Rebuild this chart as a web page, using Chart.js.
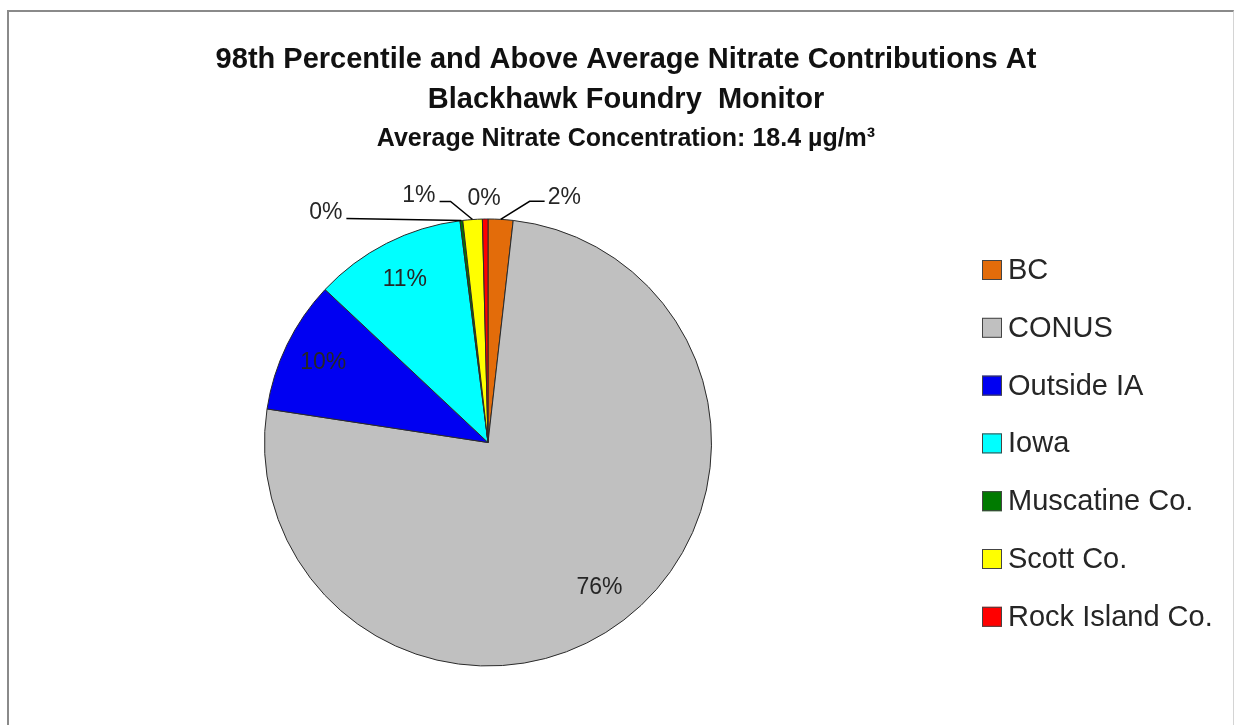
<!DOCTYPE html>
<html lang="en">
<head>
<meta charset="UTF-8">
<title>Nitrate Contributions - Blackhawk Foundry Monitor</title>
<script src="https://cdn.jsdelivr.net/npm/chart.js@4.4.1/dist/chart.umd.min.js"></script>
<style>
    body {
        margin: 0;
        background: #fff;
        font-family: 'Liberation Sans', Arial, sans-serif;
    }
    .frame {
        position: absolute;
        left: 7px;
        top: 10px;
        width: 1224px;
        height: 760px;
        border-left: 2px solid #8a8a8a;
        border-top: 2px solid #8a8a8a;
        border-right: 1px solid #d4d4d4;
    }
    #chartBox {
        position: absolute;
        left: 0;
        top: 0;
        width: 1238px;
        height: 725px;
    }
</style>
</head>
<body>
<div class="frame"></div>
<div id="chartBox">
    <canvas id="nitrateChart" width="1238" height="725"></canvas>
</div>

<script>
// source regions and their share (%) of the average nitrate at the monitor
const sources = ['BC', 'CONUS', 'Outside IA', 'Iowa', 'Muscatine Co.', 'Scott Co.', 'Rock Island Co.'];
const shares = [1.8, 75.6, 9.6, 11.0, 0.2, 1.4, 0.4];
const sliceColors = ['#E36C0A', '#C0C0C0', '#0000F2', '#00FFFF', '#007A00', '#FFFF00', '#FF0000'];

const titleLines = [
    '98th Percentile and Above Average Nitrate Contributions At',
    'Blackhawk Foundry  Monitor'
];
const subTitle = 'Average Nitrate Concentration: 18.4 \u00B5g/m\u00B3';

// where each percentage goes: inside the slice, or outside with a leader line
// (offsets in px from the point where the slice meets the rim)
const labelPlacement = [
    { elbow: [29, -18], end: [44, -18] },
    'inside',
    'inside',
    'inside',
    { elbow: null, end: [-115, -2] },
    { elbow: [-22, -18], end: [-33, -18] },
    { text: [-1, -20] }
];

const TEXT = '#262626';

const headerPlugin = {
    id: 'header',
    afterDraw(chart) {
        const ctx = chart.ctx;
        ctx.save();
        ctx.fillStyle = '#111';
        ctx.textAlign = 'center';
        ctx.textBaseline = 'alphabetic';
        ctx.font = 'bold 29px "Liberation Sans", Arial, sans-serif';
        ctx.fillText(titleLines[0], 626, 68);
        ctx.fillText(titleLines[1], 626, 108);
        ctx.font = 'bold 25px "Liberation Sans", Arial, sans-serif';
        ctx.fillText(subTitle, 626, 146);
        ctx.restore();
    }
};

const sliceLabels = {
    id: 'sliceLabels',
    afterDatasetsDraw(chart) {
        const ctx = chart.ctx;
        const meta = chart.getDatasetMeta(0);
        const values = chart.data.datasets[0].data;
        const total = values.reduce((a, b) => a + b, 0);

        ctx.save();
        ctx.font = '23px "Liberation Sans", Arial, sans-serif';
        ctx.fillStyle = TEXT;
        ctx.strokeStyle = '#000';
        ctx.lineWidth = 1.5;
        ctx.textBaseline = 'middle';

        meta.data.forEach((arc, i) => {
            const p = arc.getProps(['x', 'y', 'startAngle', 'endAngle', 'outerRadius'], true);
            const mid = (p.startAngle + p.endAngle) / 2;
            const txt = Math.round(values[i] / total * 100) + '%';
            const place = labelPlacement[i];

            if (place === 'inside') {
                const r = p.outerRadius * 0.82;
                ctx.textAlign = 'center';
                ctx.fillText(txt, p.x + Math.cos(mid) * r, p.y + Math.sin(mid) * r);
                return;
            }

            const ax = p.x + Math.cos(mid) * p.outerRadius;
            const ay = p.y + Math.sin(mid) * p.outerRadius;

            if (place.text) {
                ctx.textAlign = 'center';
                ctx.fillText(txt, ax + place.text[0], ay + place.text[1]);
                return;
            }

            const ex = ax + place.end[0];
            const ey = ay + place.end[1];
            ctx.beginPath();
            ctx.moveTo(ax, ay);
            if (place.elbow) ctx.lineTo(ax + place.elbow[0], ay + place.elbow[1]);
            ctx.lineTo(ex, ey);
            ctx.stroke();

            if (ex > ax) {
                ctx.textAlign = 'left';
                ctx.fillText(txt, ex + 3, ey - 4);
            } else {
                ctx.textAlign = 'right';
                ctx.fillText(txt, ex - 4, ey - 6);
            }
        });
        ctx.restore();
    }
};

// legend on the right, one row per source
const sideLegend = {
    id: 'sideLegend',
    afterDraw(chart) {
        const ctx = chart.ctx;
        const colors = chart.data.datasets[0].backgroundColor;
        ctx.save();
        ctx.font = '29px "Liberation Sans", Arial, sans-serif';
        ctx.textBaseline = 'middle';
        ctx.textAlign = 'left';
        chart.data.labels.forEach((label, i) => {
            const cy = 270 + i * 57.8;
            ctx.fillStyle = colors[i];
            ctx.fillRect(982, cy - 10, 20, 20);
            ctx.strokeStyle = '#444';
            ctx.lineWidth = 1;
            ctx.strokeRect(982.5, cy - 9.5, 19, 19);
            ctx.fillStyle = TEXT;
            ctx.fillText(label, 1008, cy + 1);
        });
        ctx.restore();
    }
};

new Chart(document.getElementById('nitrateChart'), {
    type: 'pie',
    data: {
        labels: sources,
        datasets: [{
            data: shares,
            backgroundColor: sliceColors,
            borderColor: '#2a2a2a',
            borderWidth: 1,
            hoverOffset: 0
        }]
    },
    options: {
        responsive: false,
        animation: false,
        layout: {
            padding: { left: 264, top: 218, right: 526, bottom: 58 }
        },
        plugins: {
            legend: { display: false },
            tooltip: { enabled: false }
        }
    },
    plugins: [headerPlugin, sliceLabels, sideLegend]
});
</script>
</body>
</html>
